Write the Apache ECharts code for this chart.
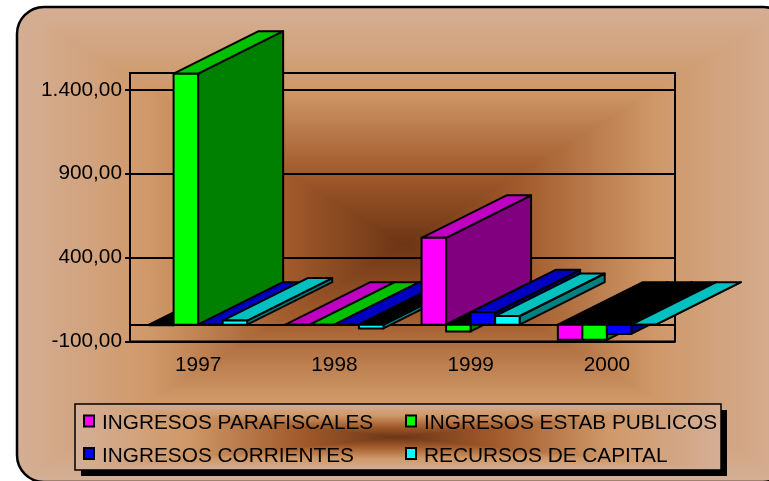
<!DOCTYPE html>
<html>
<head>
<meta charset="utf-8">
<style>html,body{margin:0;padding:0;background:#fff}#c{width:769px;height:481px}</style>
<script src="https://cdn.jsdelivr.net/npm/echarts@6/dist/echarts.min.js"></script>
</head>
<body>
<div id="c"></div>
<script>
var categories = ['1997', '1998', '1999', '2000'];
var yTicks = [-100, 400, 900, 1400];
var parafiscales = [-3, 0, 518, -90];
var estabPublicos = [1496, 0, -40, -90];
var corrientes = [0, 0, 74, -55];
var capital = [25, -22, 52, 0];
var seriesNames = ['INGRESOS PARAFISCALES', 'INGRESOS ESTAB PUBLICOS', 'INGRESOS CORRIENTES', 'RECURSOS DE CAPITAL'];
var seriesValues = [parafiscales, estabPublicos, corrientes, capital];
var frontColors = ['#FF00FF', '#00FF00', '#0000FF', '#00FFFF'];
var topColors = ['#C000C0', '#00C000', '#0000C0', '#00C0C0'];
var sideColors = ['#800080', '#008000', '#000080', '#008080'];

var BAR_FRACTION = 0.18, DEPTH_X = 85, DEPTH_Y = -42.5;
var FONT = '"Liberation Sans", Arial, sans-serif';
var FONT_SIZE = 20.8;

var ramp = [[0, '#6C3516'], [0.3, '#A15A2B'], [0.65, '#CF9868'], [1, '#D4AF96']];
function linear(x2, y2, rev) {
  var stops = ramp.map(function (s) { return { offset: rev ? 1 - s[0] : s[0], color: s[1] }; });
  stops.sort(function (a, b) { return a.offset - b.offset; });
  return new echarts.graphic.LinearGradient(0, 0, x2, y2, stops);
}
function symStops() {
  var out = [];
  ramp.forEach(function (s) {
    out.push({ offset: 0.5 - s[0] / 2, color: s[1] });
    out.push({ offset: 0.5 + s[0] / 2, color: s[1] });
  });
  out.sort(function (a, b) { return a.offset - b.offset; });
  return new echarts.graphic.LinearGradient(0, 0, 1, 0, out);
}
function pathGradient(x, y, w, h, z) {
  var cx = x + w / 2, cy = y + h / 2;
  return [
    { type: 'rect', z: z, silent: true, shape: { x: x, y: y, width: w, height: h }, style: { fill: symStops() } },
    { type: 'polygon', z: z, silent: true, shape: { points: [[x, y], [x + w, y], [cx, cy]] }, style: { fill: linear(0, 1, true) } },
    { type: 'polygon', z: z, silent: true, shape: { points: [[x, y + h], [x + w, y + h], [cx, cy]] }, style: { fill: linear(0, 1, false) } }
  ];
}
function cornerMask(cx, cy, px, py, r, a0, z) {
  var pts = [[px, py]];
  for (var i = 0; i <= 24; i++) {
    var a = a0 + i / 24 * Math.PI / 2;
    pts.push([cx + r * Math.cos(a), cy + r * Math.sin(a)]);
  }
  return { type: 'polygon', z: z, silent: true, shape: { points: pts }, style: { fill: '#fff' } };
}

var BG = { x: 17, y: 7, w: 773, h: 475, r: 27 };
var LG = { x: 75, y: 404, w: 646, h: 66 };
var graphics = []
  .concat(pathGradient(BG.x, BG.y, BG.w, BG.h, -10))
  .concat([
    cornerMask(BG.x + BG.r, BG.y + BG.r, BG.x - 1, BG.y - 1, BG.r, Math.PI, -9),
    cornerMask(BG.x + BG.r, BG.y + BG.h - BG.r, BG.x - 1, BG.y + BG.h + 1, BG.r, Math.PI / 2, -9),
    { type: 'rect', z: -8, silent: true, shape: { x: BG.x, y: BG.y, width: BG.w, height: BG.h, r: BG.r }, style: { fill: 'none', stroke: '#000', lineWidth: 2.5 } },
    { type: 'rect', z: -7, silent: true, shape: { x: LG.x + 6, y: LG.y + 6, width: LG.w, height: LG.h }, style: { fill: '#000' } }
  ])
  .concat(pathGradient(LG.x, LG.y, LG.w, LG.h, -6))
  .concat([
    { type: 'rect', z: -5, silent: true, shape: { x: LG.x, y: LG.y, width: LG.w, height: LG.h }, style: { fill: 'none', stroke: '#000', lineWidth: 1.5 } }
  ]);

function renderBar(seriesIdx) {
  return function (params, api) {
    var cat = api.value(0), val = api.value(1);
    var band = api.size([1, 0])[0];
    var w = band * BAR_FRACTION;
    var c0 = api.coord([cat, 0]);
    var c1 = api.coord([cat, val]);
    var xl = c0[0] + (seriesIdx - 2) * w;
    var xr = xl + w;
    var base = c0[1], end = c1[1];
    var topY = Math.min(base, end), botY = Math.max(base, end);
    var neg = val < 0;
    var z = cat * 100 + seriesIdx * 10;
    var stroke = { stroke: '#000', lineWidth: 2, lineJoin: 'round' };
    function poly(pts, fill, k) {
      return { type: 'polygon', z2: z + k, shape: { points: pts }, style: Object.assign({ fill: fill }, stroke) };
    }
    return {
      type: 'group',
      children: [
        poly([[xr, topY], [xr + DEPTH_X, topY + DEPTH_Y], [xr + DEPTH_X, botY + DEPTH_Y], [xr, botY]], sideColors[seriesIdx], 1),
        poly([[xl, topY], [xr, topY], [xr + DEPTH_X, topY + DEPTH_Y], [xl + DEPTH_X, topY + DEPTH_Y]], neg ? '#000' : topColors[seriesIdx], 2),
        poly([[xl, topY], [xr, topY], [xr, botY], [xl, botY]], frontColors[seriesIdx], 3)
      ]
    };
  };
}

function fmt(v) {
  var s = Math.abs(v).toFixed(2).split('.');
  return (v < 0 ? '-' : '') + s[0].replace(/\B(?=(\d{3})+$)/g, '.') + ',' + s[1];
}

var legendBase = {
  orient: 'vertical', padding: 0, itemGap: 11.5, itemWidth: 10, itemHeight: 11, icon: 'rect',
  selectedMode: false,
  itemStyle: { borderColor: '#000', borderWidth: 2 },
  formatter: '{t|{name}}',
  textStyle: {
    fontFamily: FONT, fontSize: FONT_SIZE, color: '#000',
    rich: { t: { fontFamily: FONT, fontSize: FONT_SIZE, color: '#000', padding: [5, 0, 0, 3] } }
  }
};

var chart = echarts.init(document.getElementById('c'), null, { renderer: 'canvas' });
chart.setOption({
  animation: false,
  backgroundColor: '#fff',
  graphic: { elements: graphics },
  legend: [
    Object.assign({}, legendBase, { left: 83, top: 413, data: [seriesNames[0], seriesNames[2]] }),
    Object.assign({}, legendBase, { left: 405, top: 413, data: [seriesNames[1], seriesNames[3]] })
  ],
  grid: { left: 130, right: 94, top: 73, bottom: 139.5, show: true, borderColor: '#000', borderWidth: 2, backgroundColor: 'transparent' },
  xAxis: {
    type: 'category', data: categories,
    axisLine: { show: true, lineStyle: { color: '#000', width: 2 } },
    axisTick: { show: false },
    axisLabel: { color: '#000', fontFamily: FONT, fontSize: FONT_SIZE, margin: 13 }
  },
  yAxis: {
    type: 'value', min: -100, max: 1500, interval: 500,
    axisLine: { show: true, lineStyle: { color: '#000', width: 2 } },
    axisTick: { show: true, length: 5, lineStyle: { color: '#000', width: 2 }, customValues: yTicks },
    axisLabel: { color: '#000', fontFamily: FONT, fontSize: FONT_SIZE, margin: 8, customValues: yTicks, formatter: fmt },
    splitLine: { show: true, lineStyle: { color: '#000', width: 2 } }
  },
  series: seriesNames.map(function (name, i) {
    return {
      type: 'custom', name: name,
      coordinateSystem: 'cartesian2d',
      clip: false,
      silent: true,
      itemStyle: { color: frontColors[i] },
      encode: { x: 0, y: 1 },
      renderItem: renderBar(i),
      data: seriesValues[i].map(function (v, k) { return [k, v]; })
    };
  })
});
</script>
</body>
</html>
